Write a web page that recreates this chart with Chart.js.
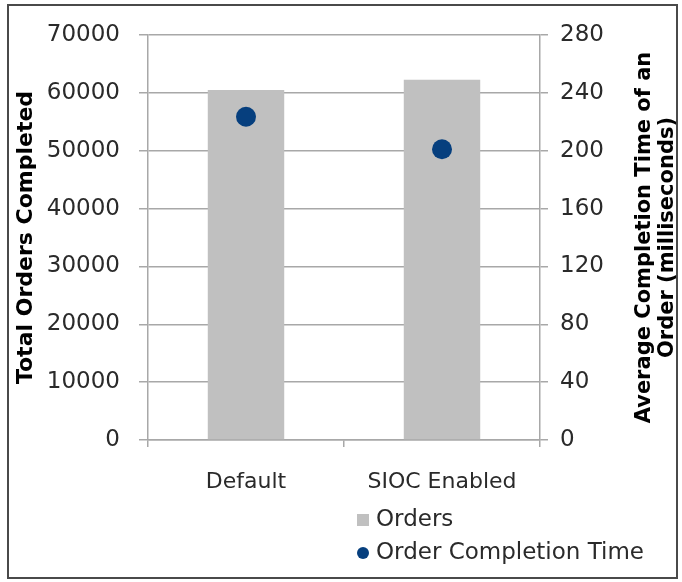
<!DOCTYPE html>
<html>
<head>
<meta charset="utf-8">
<script src="https://cdn.jsdelivr.net/npm/chart.js@4.4.1/dist/chart.umd.min.js"></script>
<style>
  html, body { margin: 0; padding: 0; background: #fff; }
  #wrap { width: 682px; height: 582px; }
</style>
</head>
<body>
<div id="wrap"><canvas id="chart" width="682" height="582"></canvas></div>
<script>
// dati
const categories = ['Default', 'SIOC Enabled'];
const ordersCompleted = [60500, 62250];
const completionTimeMs = [223.5, 201];
const leftTicks = [0, 10000, 20000, 30000, 40000, 50000, 60000, 70000];
const rightTicks = [0, 40, 80, 120, 160, 200, 240, 280];

const leftTitle = 'Total Orders Completed';
const rightTitle = ['Average Completion Time of an', 'Order (milliseconds)'];

const gridColor = '#a8a8a8';
const textColor = '#2a2a2a';

Chart.defaults.font.family = "'DejaVu Sans', sans-serif";
Chart.defaults.font.size = 22;
Chart.defaults.color = textColor;

// legenda impilata, titolo destro e cornice disegnati a mano
const extras = {
    id: 'extras',
    afterDraw(chart) {
        const ctx = chart.ctx;
        const area = chart.chartArea;
        ctx.save();

        // cornice
        ctx.strokeStyle = '#4a4a4a';
        ctx.lineWidth = 2;
        ctx.strokeRect(8, 5, 669, 573);

        // titolo asse destro (letto dal basso verso l'alto)
        ctx.font = "bold 21px 'DejaVu Sans', sans-serif";
        ctx.fillStyle = '#000';
        ctx.textAlign = 'center';
        ctx.textBaseline = 'middle';
        const midY = (area.top + area.bottom) / 2;
        ctx.translate(645, midY);
        ctx.rotate(-Math.PI / 2);
        rightTitle.forEach((line, i) => ctx.fillText(line, 0, i * 23));
        ctx.setTransform(1, 0, 0, 1, 0, 0);

        // legenda: prima le barre, poi i punti
        const bars = chart.data.datasets.find(d => d.type !== 'line');
        const dots = chart.data.datasets.find(d => d.type === 'line');
        ctx.font = "23px 'DejaVu Sans', sans-serif";
        ctx.textAlign = 'left';
        const lx = 357, ly = [520, 553];
        ctx.fillStyle = bars.backgroundColor;
        ctx.fillRect(lx, ly[0] - 6, 12, 12);
        ctx.fillStyle = dots.backgroundColor;
        ctx.beginPath();
        ctx.arc(lx + 6, ly[1], 6, 0, Math.PI * 2);
        ctx.fill();
        ctx.fillStyle = textColor;
        ctx.fillText(bars.label, lx + 19, ly[0]);
        ctx.fillText(dots.label, lx + 19, ly[1]);
        ctx.restore();
    }
};

const plainNumber = (v) => String(v);

new Chart(document.getElementById('chart').getContext('2d'), {
    type: 'bar',
    data: {
        labels: categories,
        datasets: [
            {
                type: 'line',
                label: 'Order Completion Time',
                data: completionTimeMs,
                yAxisID: 'y1',
                showLine: false,
                pointRadius: 10,
                pointHoverRadius: 10,
                backgroundColor: '#063f7e',
                borderColor: '#063f7e',
                borderWidth: 0
            },
            {
                type: 'bar',
                label: 'Orders',
                data: ordersCompleted,
                yAxisID: 'y',
                backgroundColor: '#c0c0c0',
                categoryPercentage: 1,
                barPercentage: 0.39
            }
        ]
    },
    options: {
        responsive: false,
        animation: false,
        layout: { padding: { left: 10, right: 0, top: 35, bottom: 80 } },
        plugins: {
            legend: { display: false },
            tooltip: { enabled: false }
        },
        scales: {
            x: {
                grid: {
                    offset: true,
                    drawOnChartArea: false,
                    color: gridColor,
                    lineWidth: 1.5,
                    tickLength: 7
                },
                border: { color: gridColor, width: 1.5 },
                ticks: { padding: 22, color: textColor },
                afterFit: (s) => { s.height = 62; }
            },
            y: {
                position: 'left',
                min: 0,
                max: 70000,
                afterBuildTicks: (s) => { s.ticks = leftTicks.map(v => ({ value: v })); },
                ticks: { padding: 19, color: textColor, font: { size: 23 }, callback: plainNumber },
                grid: { color: gridColor, lineWidth: 1.5, tickLength: 9 },
                border: { color: gridColor, width: 1.5 },
                title: {
                    display: true,
                    text: leftTitle,
                    color: '#000',
                    font: { size: 22, weight: 'bold' },
                    padding: { top: 3, bottom: 0 }
                },
                afterFit: (s) => { s.width = 138; }
            },
            y1: {
                position: 'right',
                min: 0,
                max: 280,
                afterBuildTicks: (s) => { s.ticks = rightTicks.map(v => ({ value: v })); },
                ticks: { padding: 12, color: textColor, font: { size: 23 }, callback: plainNumber },
                grid: { drawOnChartArea: false, color: gridColor, lineWidth: 1.5, tickLength: 8 },
                border: { color: gridColor, width: 1.5 },
                afterFit: (s) => { s.width = 142; }
            }
        }
    },
    plugins: [extras]
});
</script>
</body>
</html>
